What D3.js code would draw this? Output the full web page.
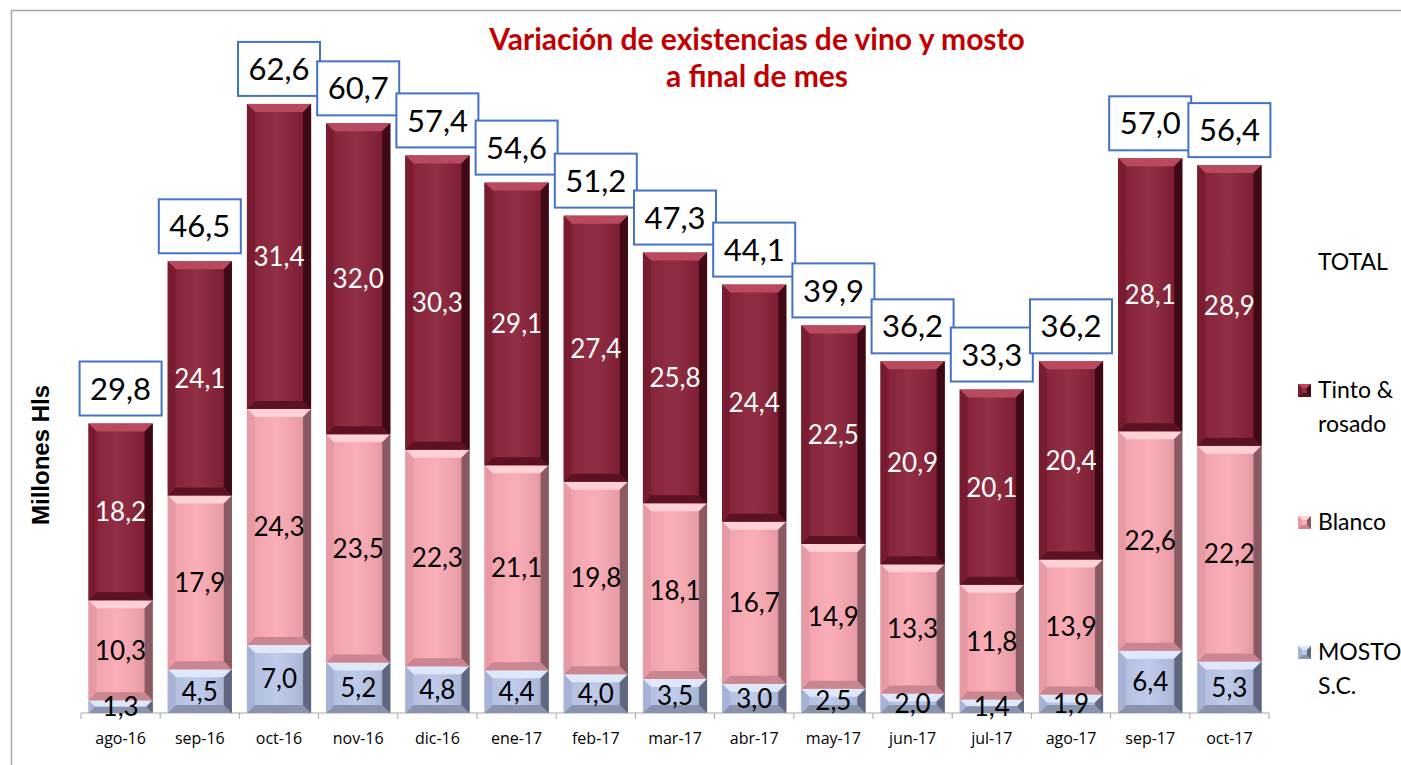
<!DOCTYPE html>
<html>
<head>
<meta charset="utf-8">
<script src="https://cdn.jsdelivr.net/npm/d3@7"></script>
<style>
  body { margin: 0; background: #fff; }
  text { font-family: Lato, "Open Sans", sans-serif; }
</style>
</head>
<body>
<div id="vis"></div>
<script>

var months = ['ago-16','sep-16','oct-16','nov-16','dic-16','ene-17','feb-17','mar-17',
              'abr-17','may-17','jun-17','jul-17','ago-17','sep-17','oct-17'];

var mosto  = [1.3, 4.5, 7.0, 5.2, 4.8, 4.4, 4.0, 3.5, 3.0, 2.5, 2.0, 1.4, 1.9, 6.4, 5.3];
var blanco = [10.3, 17.9, 24.3, 23.5, 22.3, 21.1, 19.8, 18.1, 16.7, 14.9, 13.3, 11.8, 13.9, 22.6, 22.2];
var tinto  = [18.2, 24.1, 31.4, 32.0, 30.3, 29.1, 27.4, 25.8, 24.4, 22.5, 20.9, 20.1, 20.4, 28.1, 28.9];
var totals = [29.8, 46.5, 62.6, 60.7, 57.4, 54.6, 51.2, 47.3, 44.1, 39.9, 36.2, 33.3, 36.2, 57.0, 56.4];

var seriesKeys = ['mosto', 'blanco', 'tinto'];
var legendNames = { tinto: ['Tinto &', 'rosado'], blanco: ['Blanco'], mosto: ['MOSTO', 'S.C.'] };

var width = 1401, height = 765;
var plot = { left: 81, right: 1269, top: 33, bottom: 713 };

// colours per series: face, top, bottom, left, right, label
var pal = {
    tinto:  { face: '#8a2238', top: '#b9495e', bottom: '#5c1222', left: '#7a1c30', right: '#3e0a16', text: '#ffffff' },
    blanco: { face: '#fba9b3', top: '#ffd0d6', bottom: '#c98590', left: '#e89aa4', right: '#8a5a62', text: '#000000' },
    mosto:  { face: '#bac7e8', top: '#dfe7fb', bottom: '#8a93ad', left: '#a7b3d6', right: '#5e6680', text: '#000000' }
};

var fmt = function (v) { return d3.format('.1f')(v).replace('.', ','); };

var rows = months.map(function (m, i) {
    return { month: m, mosto: mosto[i], blanco: blanco[i], tinto: tinto[i], total: totals[i] };
});

var stack = d3.stack().keys(seriesKeys)(rows);

var x = d3.scaleBand()
    .domain(months)
    .range([plot.left, plot.right])
    .paddingInner(0.19)
    .paddingOuter(0.095);

var y = d3.scaleLinear()
    .domain([0, 70])
    .range([plot.bottom, plot.top]);

var svg = d3.select('#vis').append('svg')
    .attr('width', width)
    .attr('height', height);

// chart frame
svg.append('path')
    .attr('d', 'M11.5,' + height + 'V10.5H' + width)
    .attr('fill', 'none')
    .attr('stroke', '#a6a6a6')
    .attr('stroke-width', 1.5);

// title
svg.append('text')
    .attr('x', 757).attr('y', 50)
    .attr('text-anchor', 'middle')
    .attr('font-size', 30).attr('font-weight', 'bold')
    .attr('fill', '#c00000')
    .text('Variación de existencias de vino y mosto');
svg.append('text')
    .attr('x', 757).attr('y', 87)
    .attr('text-anchor', 'middle')
    .attr('font-size', 30).attr('font-weight', 'bold')
    .attr('fill', '#c00000')
    .text('a final de mes');

// y label
svg.append('text')
    .attr('transform', 'translate(49,' + 455 + ') rotate(-90)')
    .attr('text-anchor', 'middle')
    .style('font-family', '"Liberation Sans", Arial, sans-serif')
    .attr('font-size', 24).attr('font-weight', 'bold')
    .text('Millones Hls');

// bevelled block, Excel style
function bevel(g, x0, x1, y0, y1, c, bw) {
    var b = Math.min(bw, (y1 - y0) / 2, (x1 - x0) / 2);
    g.append('rect').attr('x', x0).attr('y', y0).attr('width', x1 - x0).attr('height', y1 - y0).attr('fill', c.face);
    g.append('rect').attr('x', x0).attr('y', y0).attr('width', x1 - x0).attr('height', y1 - y0).attr('fill', 'url(#shade)');
    var polys = [
        [[x0, y0], [x1, y0], [x1 - b, y0 + b], [x0 + b, y0 + b], c.top],
        [[x0, y1], [x1, y1], [x1 - b, y1 - b], [x0 + b, y1 - b], c.bottom],
        [[x0, y0], [x0 + b, y0 + b], [x0 + b, y1 - b], [x0, y1], c.left],
        [[x1, y0], [x1 - b, y0 + b], [x1 - b, y1 - b], [x1, y1], c.right]
    ];
    polys.forEach(function (p) {
        g.append('polygon')
            .attr('points', p.slice(0, 4).map(function (q) { return q.join(','); }).join(' '))
            .attr('fill', p[4]);
    });
}

var defs = svg.append('defs');
var grad = defs.append('linearGradient').attr('id', 'shade').attr('x1', 0).attr('x2', 1).attr('y1', 0).attr('y2', 0);
grad.append('stop').attr('offset', '0%').attr('stop-color', '#000').attr('stop-opacity', 0.05);
grad.append('stop').attr('offset', '45%').attr('stop-color', '#fff').attr('stop-opacity', 0.06);
grad.append('stop').attr('offset', '85%').attr('stop-color', '#000').attr('stop-opacity', 0.08);
grad.append('stop').attr('offset', '100%').attr('stop-color', '#000').attr('stop-opacity', 0.35);

// axis
var axisG = svg.append('g').attr('transform', 'translate(0,' + plot.bottom + ')');
axisG.append('line')
    .attr('x1', plot.left).attr('x2', plot.right)
    .attr('stroke', '#a6a6a6').attr('stroke-width', 1);
var step = x.step();
var tickXs = d3.range(months.length + 1).map(function (i) {
    return x(months[0]) - x.paddingInner() * step / 2 + i * step;
});
axisG.selectAll('.tick').data(tickXs).enter().append('line')
    .attr('x1', function (d) { return d; }).attr('x2', function (d) { return d; })
    .attr('y1', 0).attr('y2', 6)
    .attr('stroke', '#a6a6a6');
axisG.selectAll('.cat').data(months).enter().append('text')
    .attr('x', function (d) { return x(d) + x.bandwidth() / 2; })
    .attr('y', 31)
    .attr('text-anchor', 'middle')
    .style('font-family', '"Open Sans", sans-serif')
    .attr('font-size', 16)
    .text(function (d) { return d; });

// bars
var barsG = svg.append('g');
stack.forEach(function (layer) {
    var key = layer.key;
    layer.forEach(function (d, i) {
        var g = barsG.append('g');
        var x0 = x(months[i]), x1 = x0 + x.bandwidth();
        bevel(g, x0, x1, y(d[1]), y(d[0]), pal[key], 8);
    });
});

// segment labels
stack.forEach(function (layer) {
    var key = layer.key;
    barsG.selectAll('.lbl-' + key).data(layer).enter().append('text')
        .attr('x', function (d, i) { return x(months[i]) + x.bandwidth() / 2; })
        .attr('y', function (d) { return (y(d[0]) + y(d[1])) / 2; })
        .attr('dy', '0.36em')
        .attr('text-anchor', 'middle')
        .attr('font-size', 26)
        .attr('fill', pal[key].text)
        .text(function (d) { return fmt(d.data[key]); });
});

// total boxes
var boxW = 82, boxH = 54;
var totG = svg.append('g').selectAll('g').data(rows).enter().append('g')
    .attr('transform', function (d) {
        var top = y(d.mosto + d.blanco + d.tinto);
        return 'translate(' + (x(d.month) + x.bandwidth() / 2) + ',' + (top - 8 - boxH) + ')';
    });
totG.append('rect')
    .attr('x', -boxW / 2).attr('y', 0)
    .attr('width', boxW).attr('height', boxH)
    .attr('fill', '#fff')
    .attr('stroke', '#4472c4').attr('stroke-width', 2);
totG.append('text')
    .attr('x', 0).attr('y', boxH / 2)
    .attr('dy', '0.36em')
    .attr('text-anchor', 'middle')
    .attr('font-size', 31)
    .text(function (d) { return fmt(d.total); });

// legend
var lg = svg.append('g');
lg.append('text').attr('x', 1318).attr('y', 270).attr('font-size', 23).text('TOTAL');
var legendY = { tinto: 390, blanco: 522, mosto: 652 };
['tinto', 'blanco', 'mosto'].forEach(function (k) {
    var ly = legendY[k];
    bevel(lg.append('g'), 1298, 1311, ly - 6, ly + 7, pal[k], 4);
    legendNames[k].forEach(function (line, j) {
        lg.append('text')
            .attr('x', 1318).attr('y', ly + 8 + j * 34)
            .attr('font-size', 23)
            .text(line);
    });
});

</script>
</body>
</html>
